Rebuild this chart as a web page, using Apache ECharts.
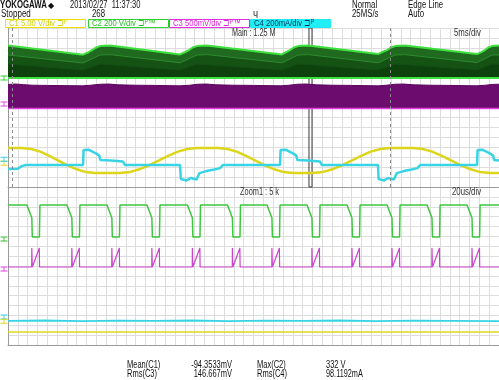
<!DOCTYPE html>
<html><head><meta charset="utf-8">
<script src="https://cdn.jsdelivr.net/npm/echarts@6/dist/echarts.min.js"></script>
<style>html,body{margin:0;padding:0;background:#fff}#c{width:499px;height:380px}</style>
</head><body><div id="c"></div>
<script>
// ---------- Main window (x: ms, 5 ms/div; y: divisions from bottom of panel) ----------
const mainGreenTop = [[0,7.12],[7.64,6.66],[8.2,6.78],[8.55,6.89],[9.0,7.02],[9.37,7.09],[10.39,7.12],[17.52,6.67],[18.0,6.78],[18.43,6.89],[18.8,7.02],[19.25,7.09],[20.26,7.12],[27.9,6.67],[28.3,6.78],[28.72,6.89],[29.1,7.02],[29.53,7.09],[30.55,7.12],[37.68,6.69],[38.1,6.79],[38.6,6.89],[39.0,7.02],[39.41,7.09],[40.43,7.12],[47.76,6.69],[48.2,6.79],[48.57,6.89],[48.9,7.02],[49.29,7.09],[50,7.12]];
const mainGreenMid = [[0,6.64],[7.64,6.24],[9.37,6.64],[10.4,6.66],[17.52,6.25],[19.25,6.64],[20.3,6.66],[27.9,6.25],[29.53,6.64],[30.6,6.66],[37.68,6.25],[39.41,6.64],[40.4,6.66],[47.76,6.26],[49.29,6.64],[50,6.64]];
const mainGreenLow = [[0,6.19],[7.64,5.89],[9.37,6.19],[17.52,5.89],[19.25,6.19],[27.9,5.89],[29.53,6.19],[37.68,5.89],[39.41,6.19],[47.76,5.9],[49.29,6.19],[50,6.18]];
const mainGreenBase = [[0,5.48],[50,5.48]];
const mainPurpleTop = [[0,5.16],[0.8,5.18],[1.6,5.15],[2.5,5.12],[4,5.11],[6,5.1],[7.6,5.09],[8.4,5.12],[9.4,5.17],[10.3,5.18],[11.2,5.14],[13,5.12],[15,5.11],[17.5,5.09],[18.5,5.12],[19.3,5.17],[20.2,5.18],[21.2,5.14],[23,5.12],[25,5.11],[27.8,5.09],[28.6,5.12],[29.5,5.17],[30.4,5.18],[31.4,5.14],[33,5.12],[35,5.11],[37.7,5.09],[38.5,5.12],[39.4,5.17],[40.3,5.18],[41.3,5.14],[43,5.12],[45,5.11],[47.7,5.09],[48.6,5.12],[49.3,5.16],[50,5.17]];
const mainPurpleBase = [[0,3.95],[50,3.95]];
const mainYellow = [[0,1.96],[1.43,1.96],[2.36,1.91],[3.29,1.78],[4.21,1.57],[5.14,1.33],[6.07,1.09],[7.0,0.89],[7.93,0.75],[8.86,0.70],[11.41,0.70],[12.39,0.75],[13.37,0.89],[14.35,1.09],[15.33,1.33],[16.31,1.57],[17.29,1.78],[18.27,1.91],[19.25,1.96],[21.38,1.96],[22.34,1.91],[23.29,1.78],[24.25,1.57],[25.2,1.33],[26.16,1.09],[27.11,0.89],[28.07,0.75],[29.02,0.70],[31.06,0.70],[32.04,0.75],[33.02,0.89],[34.0,1.09],[34.98,1.33],[35.96,1.57],[36.94,1.78],[37.92,1.91],[38.9,1.96],[41.24,1.96],[42.22,1.91],[43.2,1.78],[44.18,1.57],[45.16,1.33],[46.14,1.09],[47.12,0.89],[48.1,0.75],[49.08,0.70],[50,0.70]];
const mainCyan = [[0,0.91],[1.0,0.92],[1.4,1.05],[1.8,1.11],[7.64,1.11],[7.7,1.86],[8.2,1.88],[8.6,1.78],[9.0,1.68],[9.3,1.58],[9.4,1.36],[10.5,1.33],[11.7,1.28],[11.9,1.11],[17.52,1.11],[17.6,0.4],[18.2,0.33],[18.6,0.45],[19.2,0.38],[19.5,0.7],[20.2,0.8],[21.0,0.88],[21.6,0.95],[21.9,1.11],[27.7,1.11],[27.76,1.86],[28.26,1.88],[28.66,1.78],[29.06,1.68],[29.36,1.58],[29.46,1.36],[30.56,1.33],[31.76,1.28],[31.96,1.11],[37.68,1.11],[37.74,0.4],[38.3,0.33],[38.7,0.45],[39.3,0.38],[39.6,0.7],[40.3,0.8],[41.1,0.88],[41.7,0.95],[42.0,1.11],[47.76,1.11],[47.82,1.86],[48.3,1.88],[48.7,1.78],[49.1,1.68],[49.4,1.58],[49.5,1.36],[50,1.33]];
const mainCursors = [0.4, 38.9];
const zoomWindow = [30.65, 30.96];

// ---------- Zoom window (x: us, 20 us/div; y: divisions from bottom of panel) ----------
const zoomGreen = [[0,7.09],
 [7.7,7.09],[9.7,6.43],[9.9,5.47],[12.8,5.47],[13.0,7.09],
 [24.0,7.09],[26.0,6.43],[26.2,5.47],[29.1,5.47],[29.3,7.09],
 [40.3,7.09],[42.3,6.43],[42.5,5.47],[45.4,5.47],[45.6,7.09],
 [56.6,7.09],[58.6,6.43],[58.8,5.47],[61.7,5.47],[61.9,7.09],
 [73.1,7.09],[75.1,6.43],[75.3,5.47],[78.2,5.47],[78.4,7.09],
 [89.4,7.09],[91.4,6.43],[91.6,5.47],[94.5,5.47],[94.7,7.09],
 [105.5,7.09],[107.5,6.43],[107.7,5.47],[110.6,5.47],[110.8,7.09],
 [121.8,7.09],[123.8,6.43],[124.0,5.47],[126.9,5.47],[127.1,7.09],
 [138.1,7.09],[140.1,6.43],[140.3,5.47],[143.2,5.47],[143.4,7.09],
 [154.4,7.09],[156.4,6.43],[156.6,5.47],[159.5,5.47],[159.7,7.09],
 [170.7,7.09],[172.7,6.43],[172.9,5.47],[175.8,5.47],[176.0,7.09],
 [187.0,7.09],[189.0,6.43],[189.2,5.47],[192.1,5.47],[192.3,7.09],
 [200,7.09]];
const zoomMagenta = [[0,3.95],
 [9.65,3.95],[9.7,4.91],[9.9,3.95],[12.75,4.91],[12.85,3.95],
 [25.95,3.95],[26.0,4.91],[26.2,3.95],[29.05,4.91],[29.15,3.95],
 [42.25,3.95],[42.3,4.91],[42.5,3.95],[45.35,4.91],[45.45,3.95],
 [58.55,3.95],[58.6,4.91],[58.8,3.95],[61.65,4.91],[61.75,3.95],
 [75.05,3.95],[75.1,4.91],[75.3,3.95],[78.15,4.91],[78.25,3.95],
 [91.35,3.95],[91.4,4.91],[91.6,3.95],[94.45,4.91],[94.55,3.95],
 [107.45,3.95],[107.5,4.91],[107.7,3.95],[110.55,4.91],[110.65,3.95],
 [123.75,3.95],[123.8,4.91],[124.0,3.95],[126.85,4.91],[126.95,3.95],
 [140.05,3.95],[140.1,4.91],[140.3,3.95],[143.15,4.91],[143.25,3.95],
 [156.35,3.95],[156.4,4.91],[156.6,3.95],[159.45,4.91],[159.55,3.95],
 [172.65,3.95],[172.7,4.91],[172.9,3.95],[175.75,4.91],[175.85,3.95],
 [188.95,3.95],[189.0,4.91],[189.2,3.95],[192.05,4.91],[192.15,3.95],
 [200,3.95]];
const zoomCyan = [[0,1.22],[15,1.24],[30,1.21],[45,1.23],[60,1.22],[75,1.24],[90,1.21],[105,1.23],[120,1.22],[135,1.24],[150,1.21],[165,1.23],[180,1.22],[200,1.21]];
const zoomYellow = [[0,0.66],[200,0.66]];

// ground markers (div levels)
const mainGround = {green:5.48, magenta:4.18, cyan:1.4, yellow:1.2};
const zoomGround = {green:5.37, magenta:3.85, cyan:1.42, yellow:1.2};

// header / measurement texts
const headerTexts = ['YOKOGAWA', '2013/02/27  11:37:30', 'Stopped', '268', 'Normal', '25MS/s', 'Edge Line', 'Auto'];
const channelLabels = ['C1 5.00 V/div ⊐ᴾ', 'C2 200 V/div ⊐ᴾ™', 'C3 500mV/div ⊐ᴾ™', 'C4 200mA/div ⊐ᴾ'];
const measNames = ['Mean(C1)', 'Rms(C3)', 'Max(C2)', 'Rms(C4)'];
const measValues = ['-94.3533mV', '146.667mV', '332 V', '98.1192mA'];

const FONT = '"Liberation Sans",Arial,sans-serif';
const GRIDC = '#dddddd';

function gnd(level, color){
  return {symbol:'path://M0,0H8V1H0Z M3.5,1H4.5V4H3.5Z M0,4H8V5H0Z', symbolSize:[7,5], symbolOffset:[-4,0],
    label:{show:false}, silent:true, itemStyle:{color:color},
    data:[{coord:[0, level]}]};
}
function line(name, data, xi, color, width, extra){
  return Object.assign({type:'line', name, data, xAxisIndex:xi, yAxisIndex:xi, symbol:'none',
    showSymbol:false, silent:true, lineStyle:{color, width}, itemStyle:{color}, z:2}, extra||{});
}
function axisX(gi, max, interval){
  return {type:'value', gridIndex:gi, min:0, max, interval, axisLabel:{show:false}, axisTick:{show:false},
    axisLine:{show:true, onZero:false, lineStyle:{color:'#9a9a9a'}}, splitLine:{show:true, lineStyle:{color:GRIDC, width:1}}};
}
function axisY(gi){
  return {type:'value', gridIndex:gi, min:0, max:8, interval:0.5, axisLabel:{show:false}, axisTick:{show:false},
    axisLine:{show:true, onZero:false, lineStyle:{color:'#9a9a9a'}}, splitLine:{show:true, lineStyle:{color:GRIDC, width:1}}};
}
function txt(text, x, y, color, size, sx, align, bold){
  return {type:'text', silent:true, z:100, x:x, y:y, scaleX:sx||0.75,
    style:{text, x:0, y:0, fill:color||'#222',
      font:(bold?'bold ':'')+(size||10)+'px '+FONT, textVerticalAlign:'middle', verticalAlign:'middle',
      textAlign:align||'left', align:align||'left'}};
}

const chart = echarts.init(document.getElementById('c'), null, {renderer:'canvas'});
const chanColors = ['#d8d000', '#22bb22', '#dd22dd', '#003355'];
const chanBorders = ['#e8e000', '#30d030', '#e030e0', '#20e8f0'];
const graphics = [
  txt(headerTexts[0], 0, 5.5, '#111', 10, 0.78, 'left', true),
  txt('◆', 48, 5.5, '#111', 8, 1),
  txt(headerTexts[1], 70, 5.5, '#111', 10, 0.75),
  txt(headerTexts[2], 1, 14.5, '#111', 10, 0.8),
  txt(headerTexts[3], 92, 14.5, '#111', 10, 0.78),
  txt('ɥ', 253, 14, '#222', 9, 1),
  txt(headerTexts[4], 352, 5.5, '#111', 10, 0.78),
  txt(headerTexts[5], 352, 14.5, '#111', 10, 0.78),
  txt(headerTexts[6], 408, 5.5, '#111', 10, 0.78),
  txt(headerTexts[7], 408, 14.5, '#111', 10, 0.78)
];
const boxX = [5, 88, 169, 250], boxW = [80, 80, 80, 80];
for (let i = 0; i < 4; i++) {
  graphics.push({type:'rect', silent:true, z:99, shape:{x:boxX[i]+0.5, y:19.5, width:boxW[i], height:8},
    style:{fill: i===3 ? '#22eef6' : '#ffffff', stroke: chanBorders[i], lineWidth:1}});
  graphics.push(txt(channelLabels[i], boxX[i]+4, 23.8, chanColors[i], 9, 0.85));
}
graphics.push(txt('Main : 1.25 M', 232, 33.5, '#333', 10, 0.72));
graphics.push(txt('5ms/div', 454, 33.5, '#333', 10, 0.78));
graphics.push(txt('Zoom1 : 5 k', 240, 192.5, '#333', 10, 0.74));
graphics.push(txt('20us/div', 452, 192.5, '#333', 10, 0.78));
graphics.push(txt(measNames[0], 127, 365.5, '#111', 10, 0.75));
graphics.push(txt(measNames[1], 127, 374.5, '#111', 10, 0.75));
graphics.push(txt(measValues[0], 232, 365.5, '#111', 10, 0.75, 'right'));
graphics.push(txt(measValues[1], 232, 374.5, '#111', 10, 0.75, 'right'));
graphics.push(txt(measNames[2], 257, 365.5, '#111', 10, 0.75));
graphics.push(txt(measNames[3], 257, 374.5, '#111', 10, 0.75));
graphics.push(txt(measValues[2], 326, 365.5, '#111', 10, 0.75));
graphics.push(txt(measValues[3], 326, 374.5, '#111', 10, 0.73));

const option = {
  animation:false,
  backgroundColor:'#ffffff',
  grid:[{left:8, top:28, width:491, height:159}, {left:8, top:187, width:491, height:158}],
  xAxis:[axisX(0, 50, 1), axisX(1, 200, 4)],
  yAxis:[axisY(0), axisY(1)],
  graphic: graphics,
  series:[
    line('cursors', [], 0, '#888', 1, {z:1, markLine:{silent:true, symbol:'none', label:{show:false},
      lineStyle:{type:[3,3], color:'#8a8a8a', width:1}, data: mainCursors.map(v => ({xAxis:v}))}}),
    line('C2 env', mainGreenTop, 0, '#3ee03e', 2, {areaStyle:{color:'#1f6a1f', origin:mainGround.green, opacity:1}}),
    line('C2 mid', mainGreenMid, 0, '#2f8a2f', 1, {areaStyle:{color:'#145314', origin:mainGround.green, opacity:1}}),
    line('C2 low', mainGreenLow, 0, '#164e16', 1, {areaStyle:{color:'#0d420d', origin:mainGround.green, opacity:1}}),
    line('C2 base', mainGreenBase, 0, '#3de03d', 2, {markPoint:gnd(mainGround.green, '#2fcf2f')}),
    line('C3 env', mainPurpleTop, 0, '#5a065a', 1, {areaStyle:{color:'#6c0c6e', origin:3.95, opacity:1}}),
    line('C3 base', mainPurpleBase, 0, '#e040e0', 1.5, {markPoint:gnd(mainGround.magenta, '#e040e0')}),
    line('C1', mainYellow, 0, '#ddd51a', 2.5, {z:3, markPoint:gnd(mainGround.yellow, '#e0d820')}),
    line('C4', mainCyan, 0, '#38d4e6', 2.5, {z:4, markPoint:gnd(mainGround.cyan, '#30d0e0'),
      markArea:{silent:true, itemStyle:{color:'rgba(0,0,0,0)', borderColor:'#3a3a3a', borderWidth:1},
        data:[[{xAxis:zoomWindow[0], yAxis:0}, {xAxis:zoomWindow[1], yAxis:8}]]}}),
    line('Z C2', zoomGreen, 1, '#3cc83c', 1.5, {markPoint:gnd(zoomGround.green, '#30c030')}),
    line('Z C3', zoomMagenta, 1, '#cc44cc', 1.2, {markPoint:gnd(zoomGround.magenta, '#e040e0')}),
    line('Z C4', zoomCyan, 1, '#38d4e6', 1.8, {markPoint:gnd(zoomGround.cyan, '#30d0e0')}),
    line('Z C1', zoomYellow, 1, '#e0d818', 1.5, {markPoint:gnd(zoomGround.yellow, '#e0d820')})
  ]
};
chart.setOption(option);
</script>
</body></html>
